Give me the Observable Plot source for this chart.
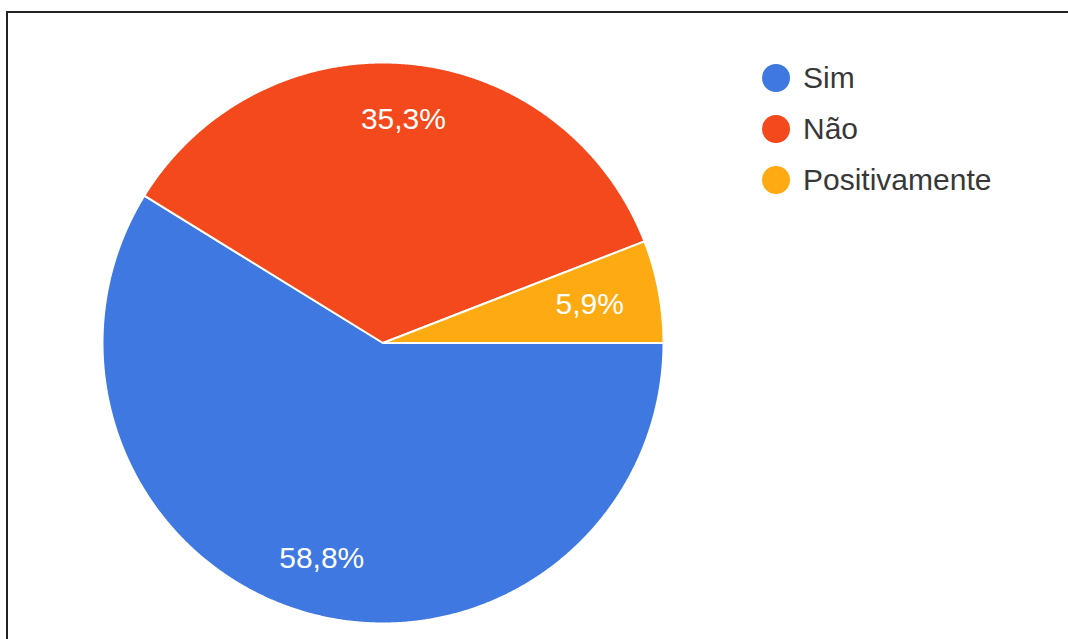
<!DOCTYPE html>
<html>
<head>
<meta charset="utf-8">
<script src="https://cdn.jsdelivr.net/npm/d3@7"></script>
<script src="https://cdn.jsdelivr.net/npm/@observablehq/plot@0.6"></script>
<style>
  html, body { margin: 0; padding: 0; background: #fff; }
  #wrap { position: relative; width: 1068px; height: 639px; overflow: hidden; font-family: "Liberation Sans", Arial, sans-serif; }
  #frame { position: absolute; left: 6px; top: 11px; width: 1100px; height: 700px; border-top: 2px solid #222; border-left: 2px solid #222; box-sizing: border-box; }
  #chart { position: absolute; left: 0; top: 0; }
  #legend { position: absolute; left: 762px; top: 0; }
  .row { position: absolute; left: 0; height: 30px; display: flex; align-items: center; white-space: nowrap; }
  .sw { width: 28px; height: 28px; border-radius: 50%; margin-right: 13px; flex: none; }
  .lt { font-size: 30px; color: #383838; line-height: 30px; }
</style>
</head>
<body>
<div id="wrap">
  <div id="frame"></div>
  <div id="chart"></div>
  <div id="legend"></div>
</div>
<script>
// ---- data ----
const categories = ["Sim", "Não", "Positivamente"];
const values = [58.8, 35.3, 5.9];
const labels = ["58,8%", "35,3%", "5,9%"];
const colors = ["#3E78E0", "#F4491C", "#FEAA12"];

// ---- geometry (unit circle, slices clockwise from 3 o'clock) ----
const arcs = d3.pie().sort(null).startAngle(Math.PI / 2).endAngle(Math.PI / 2 + 2 * Math.PI)(values);
const step = Math.PI / 720;
const poly = [];
const labelPts = [];
arcs.forEach((a, i) => {
  const cat = categories[i];
  poly.push({cat, x: 0, y: 0});
  const n = Math.max(2, Math.ceil((a.endAngle - a.startAngle) / step));
  for (let k = 0; k <= n; k++) {
    const t = a.startAngle + (a.endAngle - a.startAngle) * k / n;
    poly.push({cat, x: Math.sin(t), y: Math.cos(t)});
  }
  poly.push({cat, x: 0, y: 0});
  const mid = (a.startAngle + a.endAngle) / 2;
  const share = (a.endAngle - a.startAngle) / (2 * Math.PI);
  const rr = share < 0.1 ? 0.75 : 0.8;
  labelPts.push({cat, label: labels[i], x: rr * Math.sin(mid), y: rr * Math.cos(mid)});
});

const chart = Plot.plot({
  width: 1068,
  height: 639,
  marginLeft: 102,
  marginRight: 405,
  marginTop: 62,
  marginBottom: 16,
  x: {domain: [-1, 1], axis: null},
  y: {domain: [-1, 1], axis: null},
  color: {domain: categories, range: colors, legend: false},
  style: {background: "transparent", overflow: "visible"},
  marks: [
    Plot.line(poly, {x: "x", y: "y", z: "cat", fill: "cat", stroke: "white", strokeWidth: 2, strokeLinejoin: "round", curve: "linear"}),
    Plot.text(labelPts, {x: "x", y: "y", text: "label", fill: "white", fontSize: 30, fontFamily: "Liberation Sans, Arial, sans-serif"})
  ]
});
document.getElementById("chart").appendChild(chart);

// ---- legend ----
const legend = document.getElementById("legend");
categories.forEach((c, i) => {
  const row = document.createElement("div");
  row.className = "row";
  row.style.top = (63 + i * 51) + "px";
  const sw = document.createElement("span");
  sw.className = "sw";
  sw.style.background = colors[i];
  const t = document.createElement("span");
  t.className = "lt";
  t.textContent = c;
  row.appendChild(sw);
  row.appendChild(t);
  legend.appendChild(row);
});
</script>
</body>
</html>
